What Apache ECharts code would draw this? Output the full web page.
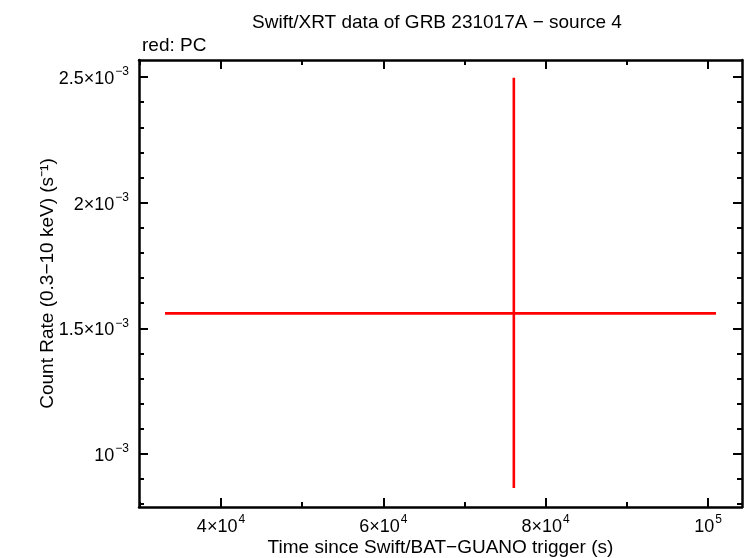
<!DOCTYPE html>
<html>
<head>
<meta charset="utf-8">
<script src="https://cdn.jsdelivr.net/npm/echarts@6/dist/echarts.min.js"></script>
<style>
html,body{margin:0;padding:0;background:#fff;}
#c{width:746px;height:558px;}
</style>
</head>
<body>
<div id="c"></div>
<script>
// ---- data ----
var pointX = [76080];
var pointXLow = [33100];
var pointXHigh = [100990];
var pointY = [1.5596e-3];
var pointYLow = [0.865e-3];
var pointYHigh = [2.497e-3];

var xMajorTicks = [40000, 60000, 80000, 100000];
var xMajorMant = ['4\u00d710', '6\u00d710', '8\u00d710', '10'];
var xMajorExp = ['4', '4', '4', '5'];
var xMinorTicks = [30000, 50000, 70000, 90000];

var yMajorTicks = [1.0e-3, 1.5e-3, 2.0e-3, 2.5e-3];
var yMajorMant = ['10', '1.5\u00d710', '2\u00d710', '2.5\u00d710'];
var yMajorExp = ['\u22123', '\u22123', '\u22123', '\u22123'];
var yMinorTicks = [0.8e-3, 0.9e-3, 1.1e-3, 1.2e-3, 1.3e-3, 1.4e-3, 1.6e-3, 1.7e-3, 1.8e-3, 1.9e-3, 2.1e-3, 2.2e-3, 2.3e-3, 2.4e-3];

var xMin = 29900, xMax = 104190;
var yMin = 0.789e-3, yMax = 2.5676e-3;

var FONT = '"Liberation Sans", Arial, Helvetica, sans-serif';

function findIdx(arr, v) {
  for (var i = 0; i < arr.length; i++) {
    if (Math.abs(arr[i] - v) <= Math.abs(v) * 1e-6 + 1e-12) return i;
  }
  return -1;
}

var rich = {
  b: {fontSize: 18, fontFamily: FONT, color: '#000', lineHeight: 22, verticalAlign: 'bottom'},
  s: {fontSize: 12, fontFamily: FONT, color: '#000', lineHeight: 22, verticalAlign: 'top', padding: [0, 0, 0, 1]}
};

function xAx(pos, isMajor, showLabel) {
  return {
    type: 'value', position: pos, min: xMin, max: xMax, gridIndex: 0,
    axisLine: {show: isMajor, onZero: false, lineStyle: {color: '#000', width: 2.5}},
    splitLine: {show: false},
    axisTick: {show: true, inside: true, length: isMajor ? 9 : 5, customValues: isMajor ? xMajorTicks : xMinorTicks, lineStyle: {color: '#000', width: 2}},
    axisLabel: showLabel ? {
      show: true, customValues: xMajorTicks, margin: 7, rich: rich,
      formatter: function (v) { var i = findIdx(xMajorTicks, v); return i < 0 ? '' : '{b|' + xMajorMant[i] + '}{s|' + xMajorExp[i] + '}'; }
    } : {show: false},
    name: showLabel ? 'Time since Swift/BAT\u2212GUANO trigger (s)' : '',
    nameLocation: 'middle', nameGap: 31, nameMoveOverlap: false,
    nameTextStyle: {fontSize: 19, fontFamily: FONT, color: '#000'}
  };
}
function yAx(pos, isMajor, showLabel) {
  return {
    type: 'value', position: pos, min: yMin, max: yMax, gridIndex: 0,
    axisLine: {show: isMajor, onZero: false, lineStyle: {color: '#000', width: 2.5}},
    splitLine: {show: false},
    axisTick: {show: true, inside: true, length: isMajor ? 9 : 5, customValues: isMajor ? yMajorTicks : yMinorTicks, lineStyle: {color: '#000', width: 2}},
    axisLabel: showLabel ? {
      show: true, customValues: yMajorTicks, margin: 10, rich: rich,
      formatter: function (v) { var i = findIdx(yMajorTicks, v); return i < 0 ? '' : '{b|' + yMajorMant[i] + '}{s|' + yMajorExp[i] + '}'; }
    } : {show: false},
    name: showLabel ? 'Count Rate (0.3\u221210 keV) (s\u207b\u00b9)' : '',
    nameLocation: 'middle', nameGap: 82, nameRotate: 90, nameMoveOverlap: false,
    nameTextStyle: {fontSize: 19, fontFamily: FONT, color: '#000'}
  };
}

var chart = echarts.init(document.getElementById('c'), null, {renderer: 'canvas'});
var option = {
  animation: false,
  backgroundColor: '#fff',
  title: [{
    text: 'Swift/XRT data of GRB 231017A \u2212 source 4',
    left: 432, top: 8, textAlign: 'center',
    textStyle: {fontSize: 19, fontWeight: 'normal', fontFamily: FONT, color: '#000'}
  }, {
    text: 'red: PC', left: 137, top: 31,
    textStyle: {fontSize: 19, fontWeight: 'normal', fontFamily: FONT, color: '#000'}
  }],
  grid: {left: 139, top: 60, width: 603, height: 447, containLabel: false, outerBoundsMode: 'none'},
  xAxis: [xAx('bottom', true, true), xAx('bottom', false, false), xAx('top', true, false), xAx('top', false, false)],
  yAxis: [yAx('left', true, true), yAx('left', false, false), yAx('right', true, false), yAx('right', false, false)],
  series: [{
    type: 'custom',
    xAxisIndex: 0, yAxisIndex: 0,
    data: pointX.map(function (x, i) { return [x, pointY[i], pointXLow[i], pointXHigh[i], pointYLow[i], pointYHigh[i]]; }),
    encode: {x: [0, 2, 3], y: [1, 4, 5]},
    renderItem: function (params, api) {
      var xl = api.coord([api.value(2), api.value(1)]);
      var xh = api.coord([api.value(3), api.value(1)]);
      var yl = api.coord([api.value(0), api.value(4)]);
      var yh = api.coord([api.value(0), api.value(5)]);
      var st = {stroke: '#ff0000', lineWidth: 2.6};
      return {
        type: 'group',
        children: [
          {type: 'line', shape: {x1: xl[0], y1: xl[1], x2: xh[0], y2: xh[1]}, style: st},
          {type: 'line', shape: {x1: yl[0], y1: yl[1], x2: yh[0], y2: yh[1]}, style: st}
        ]
      };
    }
  }]
};
chart.setOption(option);
</script>
</body>
</html>
